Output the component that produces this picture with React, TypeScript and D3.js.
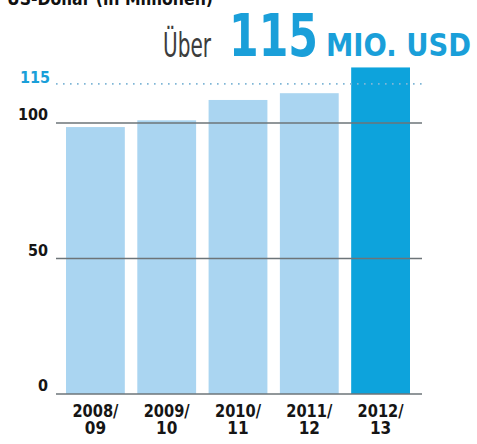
import React, { useEffect, useRef } from "react";
import * as d3 from "d3";

const categories: string[][] = [
  ["2008/", "09"],
  ["2009/", "10"],
  ["2010/", "11"],
  ["2011/", "12"],
  ["2012/", "13"],
];
const values: number[] = [98.5, 101, 108.5, 111, 120.5];
const gridTicks: number[] = [0, 50, 100];
const markValue = 115;

const W = 477;
const H = 444;
const font = "'DejaVu Sans Condensed', 'Liberation Sans Narrow', sans-serif";

export default function App() {
  const svgRef = useRef<SVGSVGElement>(null);

  useEffect(() => {
    const svg = d3.select(svgRef.current);
    svg.selectAll("*").remove();

    const keys = categories.map((c) => c.join(""));
    const x = d3.scaleBand().domain(keys).range([66, 410]).paddingInner(0.175).paddingOuter(0);
    const y = d3.scaleLinear().domain([0, 100]).range([394, 123]);

    // header
    svg.append("text")
      .attr("x", 7).attr("y", 5)
      .attr("font-family", font).attr("font-weight", "bold").attr("font-size", 18)
      .attr("fill", "#111")
      .attr("textLength", 206).attr("lengthAdjust", "spacingAndGlyphs")
      .text("US-Dollar (in Millionen)");

    svg.append("text")
      .attr("x", 163).attr("y", 57)
      .attr("font-family", font).attr("font-size", 33)
      .attr("fill", "#3c3c3c")
      .attr("textLength", 48).attr("lengthAdjust", "spacingAndGlyphs")
      .text("Über");
    svg.append("text")
      .attr("x", 229).attr("y", 56)
      .attr("font-family", font).attr("font-weight", "bold").attr("font-size", 58)
      .attr("fill", "#1a9fd9")
      .attr("textLength", 89).attr("lengthAdjust", "spacingAndGlyphs")
      .text("115");
    svg.append("text")
      .attr("x", 326).attr("y", 56)
      .attr("font-family", font).attr("font-weight", "bold").attr("font-size", 32)
      .attr("fill", "#1a9fd9")
      .attr("textLength", 145).attr("lengthAdjust", "spacingAndGlyphs")
      .text("MIO. USD");

    // bars
    svg.append("g")
      .selectAll("rect")
      .data(values)
      .join("rect")
      .attr("x", (_, i) => x(keys[i]) as number)
      .attr("y", (d) => y(d))
      .attr("width", x.bandwidth())
      .attr("height", (d) => y(0) - y(d))
      .attr("fill", (_, i) => (i === values.length - 1 ? "#0da3dc" : "#aad5f1"));

    // gridlines
    svg.append("g")
      .selectAll("line")
      .data(gridTicks)
      .join("line")
      .attr("x1", 56).attr("x2", 422)
      .attr("y1", (d) => y(d)).attr("y2", (d) => y(d))
      .attr("stroke", "#6d7478").attr("stroke-width", 1.3);

    svg.append("line")
      .attr("x1", 56).attr("x2", 424)
      .attr("y1", y(markValue) + 1.5).attr("y2", y(markValue) + 1.5)
      .attr("stroke", "#7fb6d6").attr("stroke-width", 1.6)
      .attr("stroke-dasharray", "1.6 5.4");

    // y labels
    svg.append("g")
      .selectAll("text")
      .data(gridTicks)
      .join("text")
      .attr("x", 48)
      .attr("y", (d) => y(d) - 3)
      .attr("text-anchor", "end")
      .attr("font-family", font).attr("font-weight", "bold").attr("font-size", 16)
      .attr("fill", "#151515")
      .text((d) => d);

    svg.append("text")
      .attr("x", 50).attr("y", y(markValue) + 0.5)
      .attr("text-anchor", "end")
      .attr("font-family", font).attr("font-weight", "bold").attr("font-size", 16)
      .attr("fill", "#1a9fd9")
      .text(markValue);

    // x labels
    const lbl = svg.append("g")
      .selectAll("text")
      .data(categories)
      .join("text")
      .attr("text-anchor", "middle")
      .attr("font-family", font).attr("font-weight", "bold").attr("font-size", 17)
      .attr("fill", "#151515");
    lbl.append("tspan")
      .attr("x", (d) => (x(d.join("")) as number) + x.bandwidth() / 2)
      .attr("y", 416.5)
      .attr("textLength", 46).attr("lengthAdjust", "spacingAndGlyphs")
      .text((d) => d[0]);
    lbl.append("tspan")
      .attr("x", (d) => (x(d.join("")) as number) + x.bandwidth() / 2)
      .attr("y", 433.5)
      .text((d) => d[1]);
  }, []);

  return (
    <svg
      ref={svgRef}
      width={W}
      height={H}
      style={{ position: "absolute", left: 0, top: 0, background: "#fff" }}
    ></svg>
  );
}
